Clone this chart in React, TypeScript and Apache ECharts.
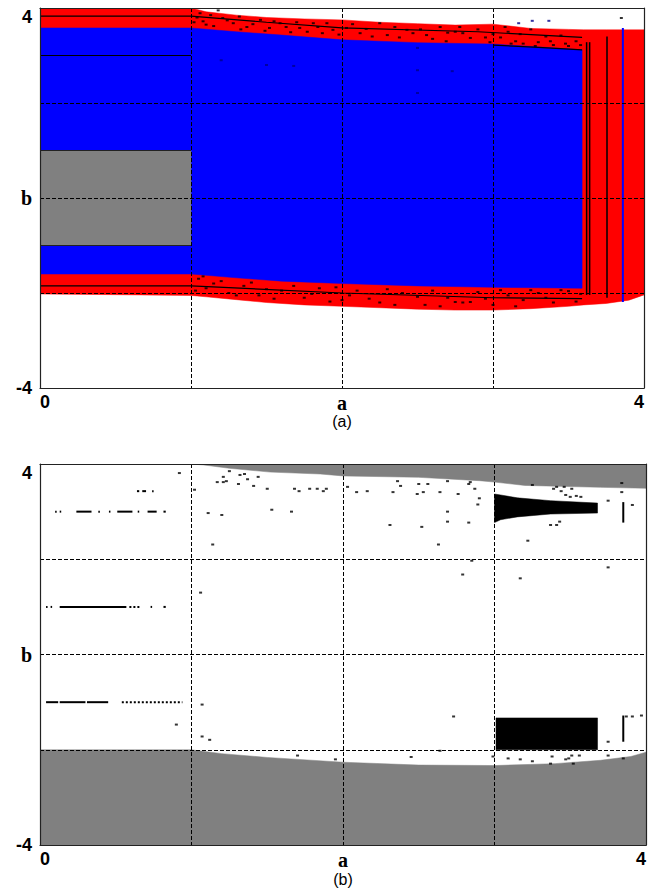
import React, { useEffect, useRef } from 'react';
import * as echarts from 'echarts';

// ---------- axes ----------
const X_TICKS = [0, 1, 2, 3, 4];
const X_TICK_LABELS = ['0', '', 'a', '', '4'];
const Y_TICKS = [-4, -2, 0, 2, 4];
const Y_TICK_LABELS = ['-4', '', 'b', '', '4'];
const PANEL_NAMES = ['(a)', '(b)'];

// ---------- panel (a) ----------
const A_RED_X = [0, 1, 1.1, 1.3, 1.5, 1.75, 2, 2.25, 2.5, 2.75, 3, 3.25, 3.5, 3.6, 3.75, 3.9, 4];
const A_RED_TOP = [4, 4, 3.92, 3.85, 3.8, 3.77, 3.75, 3.7, 3.67, 3.64, 3.66, 3.57, 3.55, 3.54, 3.54, 3.54, 3.54];
const A_RED_BOTTOM = [-2.02, -2.05, -2.08, -2.14, -2.2, -2.25, -2.28, -2.31, -2.34, -2.36, -2.36, -2.33, -2.28, -2.25, -2.22, -2.15, -2.04];

const A_BLUE_X = [0, 1, 1.3, 1.6, 2, 2.5, 3, 3.3, 3.59];
const A_BLUE_TOP = [3.58, 3.58, 3.5, 3.43, 3.33, 3.27, 3.24, 3.18, 3.12];
const A_BLUE_BOTTOM = [-1.6, -1.6, -1.68, -1.75, -1.8, -1.85, -1.88, -1.89, -1.9];

const A_GRAY_X = [0, 1];
const A_GRAY_TOP = [1, 1];
const A_GRAY_BOTTOM = [-1, -1];

const A_LINE_UPPER = [[0, 3.83], [1, 3.83], [1.5, 3.7], [2, 3.58], [2.9, 3.5], [3.59, 3.38]];
const A_LINE_THREE = [[0, 3], [1, 3]];
const A_LINE_GRAY_TOP = [[0, 1], [1, 1]];
const A_LINE_GRAY_BOTTOM = [[0, -1], [1, -1]];
const A_LINE_LOWER = [[0, -1.85], [1, -1.85], [2, -2.0], [3, -2.1], [3.59, -2.12]];
const A_LINE_EDGE = [[3.0, 3.22], [3.3, 3.17], [3.59, 3.12]];
// vertical streaks: [x, bTop, x, bBottom]
const A_VSTREAKS_BLACK = [[3.62, 3.28, 3.62, -2.04], [3.64, 3.28, 3.64, -2.04], [3.755, 3.4, 3.755, -2.1]];
const A_VSTREAKS_BLUE = [[3.86, 3.58, 3.86, -2.19]];

const A_DOTS = [
  [1.06, 3.89], [1.13, 3.85], [1.21, 3.79], [1.28, 3.68], [1.37, 3.6], [1.46, 3.75], [1.52, 3.58],
  [1.59, 3.68], [1.66, 3.49], [1.72, 3.58], [1.81, 3.68], [1.87, 3.47], [1.94, 3.54], [2.07, 3.66],
  [2.12, 3.47], [2.25, 3.68], [2.3, 3.43], [2.43, 3.54], [2.47, 3.47], [2.56, 3.43], [2.65, 3.6],
  [2.69, 3.3], [2.8, 3.47], [2.85, 3.37], [2.75, 3.5], [2.9, 3.55], [3.0, 3.45], [3.05, 3.38],
  [3.1, 3.5], [3.15, 3.3], [3.2, 3.25], [3.3, 3.28], [3.35, 3.4], [3.4, 3.22], [3.5, 3.2], [3.55, 3.3],
  [3.85, 3.79], [1.18, 3.95], [1.02, 3.7], [1.1, 3.65],
  [1.04, 3.8], [1.08, 3.72], [1.15, 3.62], [1.24, 3.74], [1.32, 3.82], [1.33, 3.55], [1.41, 3.66],
  [1.49, 3.52], [1.55, 3.72], [1.63, 3.6], [1.7, 3.7], [1.77, 3.5], [1.84, 3.6], [1.9, 3.68],
  [1.98, 3.44], [2.03, 3.58], [2.16, 3.56], [2.2, 3.4], [2.35, 3.6], [2.38, 3.38], [2.52, 3.55],
  [2.6, 3.35], [2.7, 3.48], [2.78, 3.6], [2.95, 3.38], [3.08, 3.6], [3.18, 3.45], [3.25, 3.55],
  [3.28, 3.2], [3.38, 3.3], [3.45, 3.42], [3.48, 3.25], [3.58, 3.22], [3.12, 3.25], [2.98, 3.28],
  [1.05, -1.7], [1.1, -1.9], [1.15, -1.8], [1.25, -2.0], [1.35, -1.85], [1.45, -2.05], [1.6, -1.95],
  [1.75, -2.1], [1.85, -1.9], [2.0, -2.15], [2.1, -1.95], [2.25, -2.2], [2.4, -2.0], [2.55, -2.25],
  [2.7, -2.1], [2.8, -2.2], [2.9, -1.98], [3.0, -2.25], [3.1, -2.05], [3.2, -2.15], [3.3, -2.0],
  [3.4, -2.2], [3.5, -1.96], [2.75, -2.19], [2.85, -2.19], [3.05, -1.94], [3.25, -1.94], [3.45, -1.94],
  [1.03, -1.95], [1.08, -1.65], [1.2, -1.75], [1.3, -2.05], [1.4, -1.78], [1.5, -1.92], [1.55, -2.12],
  [1.68, -1.85], [1.8, -2.02], [1.92, -2.18], [1.96, -1.88], [2.05, -2.05], [2.18, -2.12], [2.3, -1.92],
  [2.35, -2.25], [2.5, -2.08], [2.6, -1.95], [2.65, -2.28], [2.95, -2.12], [3.15, -2.28], [3.35, -2.1],
  [3.55, -2.18], [3.58, -2.02]
];
const A_BLUE_DOTS = [
  [1.2, 2.9], [1.5, 2.8], [1.68, 2.78], [2.5, 3.16], [2.5, 2.69], [2.73, 2.67], [2.5, 2.21],
  [3.17, 3.68], [3.26, 3.73], [3.37, 3.73]
];

// ---------- panel (b) ----------
const B_GRAY_TOP_X = [1, 1.08, 1.25, 1.52, 1.85, 2, 2.5, 2.9, 3, 3.2, 3.7, 4];
const B_GRAY_TOP_EDGE = [4, 3.98, 3.91, 3.83, 3.79, 3.75, 3.72, 3.65, 3.62, 3.55, 3.51, 3.49];
const B_GRAY_BOTTOM_X = [0, 1, 1.2, 1.5, 2, 2.5, 3, 3.4, 3.7, 3.9, 4];
const B_GRAY_BOTTOM_EDGE = [-2.0, -2.0, -2.08, -2.16, -2.26, -2.32, -2.33, -2.29, -2.22, -2.14, -2.05];

const B_WEDGE_X = [3.0, 3.04, 3.15, 3.26, 3.37, 3.68];
const B_WEDGE_TOP = [3.37, 3.35, 3.29, 3.26, 3.23, 3.18];
const B_WEDGE_BOTTOM = [2.77, 2.83, 2.89, 2.92, 2.95, 2.97];

const B_BLOCK_X = [3.01, 3.68];
const B_BLOCK_TOP = [-1.33, -1.33];
const B_BLOCK_BOTTOM = [-2.0, -2.0];

// horizontal segments [x1, x2, b]
const B_SEGMENTS = [
  [0.64, 0.655, 3.43], [0.675, 0.7, 3.43], [0.74, 0.75, 3.43],
  [0.1, 0.11, 3.0], [0.13, 0.14, 3.0], [0.24, 0.34, 3.0], [0.385, 0.395, 3.0], [0.455, 0.465, 3.0],
  [0.51, 0.61, 3.0], [0.645, 0.655, 3.0], [0.71, 0.77, 3.0], [0.815, 0.83, 3.0],
  [0.04, 0.05, 1.0], [0.07, 0.08, 1.0], [0.13, 0.57, 1.0], [0.73, 0.74, 1.0], [0.815, 0.83, 1.0],
  [0.04, 0.12, -1.0], [0.13, 0.3, -1.0], [0.31, 0.45, -1.0]
];
const B_SEGMENTS_DOTTED = [[0.59, 0.66, 1.0], [0.54, 0.94, -1.0]];
const B_VSTREAKS = [[3.85, 3.2, 3.85, 2.77], [3.85, -1.28, 3.85, -1.83]];

const B_DOTS = [
  [1.17, 3.62], [1.21, 3.62], [1.23, 3.64], [1.21, 3.73], [1.25, 3.85], [1.32, 3.77], [1.35, 3.79],
  [1.37, 3.68], [1.44, 3.73], [1.41, 3.54], [1.31, 3.58], [1.5, 3.48], [1.68, 3.48], [1.71, 3.43],
  [1.78, 3.48], [1.83, 3.48], [1.87, 3.43], [1.89, 3.48], [1.11, 2.97], [1.2, 2.93], [1.53, 3.04],
  [1.66, 3.0], [1.14, 2.31], [1.02, 3.46], [2.03, 3.52], [2.09, 3.41], [2.16, 3.43], [2.33, 3.41],
  [2.36, 3.64], [2.38, 3.54], [2.5, 3.58], [2.49, 3.37], [2.53, 3.41], [2.56, 3.58], [2.64, 3.41],
  [2.69, 3.64], [2.76, 3.37], [2.83, 3.58], [2.87, 3.48], [2.31, 2.72], [2.52, 2.68], [2.69, 3.0],
  [2.69, 2.79], [2.83, 2.77], [2.63, 2.31], [2.89, 3.15], [2.9, 3.28], [2.84, 3.62], [2.79, 1.68],
  [3.17, 1.6], [3.22, 2.39], [2.85, 1.97], [3.37, 2.72], [3.41, 2.72], [3.43, 2.79], [3.25, 3.56],
  [3.39, 3.48], [3.41, 3.52], [3.44, 3.43], [3.46, 3.52], [3.51, 3.48], [3.47, 3.35], [3.5, 3.31],
  [3.54, 3.33], [3.57, 3.31], [3.75, 3.23], [3.84, 3.6], [3.84, 3.41], [3.91, 3.14], [3.75, 1.83],
  [1.06, 1.3], [0.92, 3.81],
  [0.9, -1.47], [1.07, -1.05], [1.07, -1.72], [1.12, -1.79], [3.87, -1.3], [3.91, -1.3], [3.97, -1.28],
  [3.75, -1.83], [2.73, -1.3], [3.09, -2.18], [3.17, -2.2], [3.25, -2.24], [3.38, -2.14], [3.47, -2.2],
  [3.49, -2.18], [3.51, -2.12], [3.56, -2.12], [3.75, -2.12], [3.85, -2.18], [3.37, -2.29], [3.52, -2.29],
  [2.99, -2.14], [1.7, -2.12], [1.95, -2.2], [2.45, -2.15], [2.64, -2.02]
];

// ---------- builders ----------
const NUM_STYLE = { fontFamily: 'Liberation Sans', fontWeight: 'bold', fontSize: 18, color: '#000' };
const LET_STYLE = { fontFamily: 'Liberation Serif', fontWeight: 'bold', fontSize: 20, color: '#000' };

function tickFormatter(ticks: number[], labels: string[]) {
  return (v: number) => {
    const i = ticks.findIndex((t) => Math.abs(t - v) < 1e-9);
    const t = i >= 0 ? labels[i] : '';
    if (!t) return '';
    return /[a-z]/.test(t) ? `{l|${t}}` : `{n|${t}}`;
  };
}

const GRID_LINE = { color: '#000', type: [4, 2] as any, width: 1 };
const BORDER = { color: '#222', width: 1.2 };

function xAxes(gridIndex: number) {
  return [
    {
      type: 'value', gridIndex, min: 0, max: 4, interval: 1, position: 'bottom', z: 10,
      axisLine: { show: true, onZero: false, lineStyle: BORDER },
      axisTick: { show: false },
      splitLine: { show: true, lineStyle: GRID_LINE },
      axisLabel: {
        margin: 5, alignMinLabel: 'left', alignMaxLabel: 'right',
        formatter: tickFormatter(X_TICKS, X_TICK_LABELS), rich: { n: NUM_STYLE, l: LET_STYLE },
      },
      name: PANEL_NAMES[gridIndex], nameLocation: 'middle', nameGap: 20,
      nameTextStyle: { fontFamily: 'Liberation Sans', fontSize: 16, color: '#000', verticalAlign: 'top' },
    },
    {
      type: 'value', gridIndex, min: 0, max: 4, position: 'top', z: 10,
      axisLine: { show: true, onZero: false, lineStyle: BORDER },
      axisTick: { show: false }, axisLabel: { show: false }, splitLine: { show: false },
    },
  ];
}
function yAxes(gridIndex: number) {
  return [
    {
      type: 'value', gridIndex, min: -4, max: 4, interval: 2, position: 'left', z: 10,
      axisLine: { show: true, onZero: false, lineStyle: BORDER },
      axisTick: { show: false },
      splitLine: { show: true, lineStyle: GRID_LINE },
      axisLabel: {
        margin: 8, verticalAlignMaxLabel: 'top',
        formatter: tickFormatter(Y_TICKS, Y_TICK_LABELS), rich: { n: NUM_STYLE, l: LET_STYLE },
      },
    },
    {
      type: 'value', gridIndex, min: -4, max: 4, position: 'right', z: 10,
      axisLine: { show: true, onZero: false, lineStyle: BORDER },
      axisTick: { show: false }, axisLabel: { show: false }, splitLine: { show: false },
    },
  ];
}

function band(xs: number[], tops: number[], bots: number[], color: string, axis: number, z: number) {
  return {
    type: 'custom', xAxisIndex: axis, yAxisIndex: axis, z, silent: true, clip: true,
    data: xs.map((x, i) => [x, tops[i], bots[i]]),
    encode: { x: 0, y: [1, 2] },
    renderItem: (params: any, api: any) => {
      if (params.dataIndex !== 0) return null;
      const pts: number[][] = [];
      for (let i = 0; i < xs.length; i++) pts.push(api.coord([xs[i], tops[i]]));
      for (let i = xs.length - 1; i >= 0; i--) pts.push(api.coord([xs[i], bots[i]]));
      return { type: 'polygon', shape: { points: pts }, style: { fill: color, stroke: color, lineWidth: 0.5 } };
    },
  };
}

function segments(list: number[][], axis: number, color: string, width: number, dash: any, z: number) {
  return {
    type: 'custom', xAxisIndex: axis, yAxisIndex: axis, z, silent: true,
    data: list,
    encode: { x: [0, 2], y: [1, 3] },
    renderItem: (params: any, api: any) => {
      const p1 = api.coord([api.value(0), api.value(1)]);
      const p2 = api.coord([api.value(2), api.value(3)]);
      return {
        type: 'line',
        shape: { x1: p1[0], y1: p1[1], x2: p2[0], y2: p2[1] },
        style: { stroke: color, lineWidth: width, lineDash: dash },
      };
    },
  };
}

function polyline(data: number[][], axis: number, color: string, z: number) {
  return {
    type: 'line', xAxisIndex: axis, yAxisIndex: axis, z, silent: true, data,
    symbol: 'none', lineStyle: { color, width: 1.2 },
  };
}

function dots(data: number[][], axis: number, color: string, z: number) {
  return {
    type: 'scatter', xAxisIndex: axis, yAxisIndex: axis, z, silent: true, data,
    symbol: 'rect', symbolSize: [3, 2], itemStyle: { color },
  };
}

const horiz = (list: number[][]) => list.map(([x1, x2, b]) => [x1, b, x2, b]);

const option: any = {
  animation: false,
  backgroundColor: '#fff',
  grid: [
    { left: 40, top: 8, width: 604, height: 380 },
    { left: 40, top: 464, width: 606, height: 383 },
  ],
  xAxis: [...xAxes(0), ...xAxes(1)],
  yAxis: [...yAxes(0), ...yAxes(1)],
  series: [
    // panel (a)
    band(A_RED_X, A_RED_TOP, A_RED_BOTTOM, '#ff0000', 0, 1),
    band(A_BLUE_X, A_BLUE_TOP, A_BLUE_BOTTOM, '#0000ff', 0, 2),
    band(A_GRAY_X, A_GRAY_TOP, A_GRAY_BOTTOM, '#808080', 0, 3),
    polyline(A_LINE_UPPER, 0, '#000', 4),
    polyline(A_LINE_THREE, 0, '#000', 4),
    polyline(A_LINE_GRAY_TOP, 0, '#222', 4),
    polyline(A_LINE_GRAY_BOTTOM, 0, '#222', 4),
    polyline(A_LINE_LOWER, 0, '#000', 4),
    polyline(A_LINE_EDGE, 0, '#000', 4),
    segments(A_VSTREAKS_BLACK, 0, '#000', 1.5, null, 4),
    segments(A_VSTREAKS_BLUE, 0, '#0000ff', 2, null, 4),
    dots(A_DOTS, 0, '#000', 5),
    dots(A_BLUE_DOTS, 0, '#00008b', 5),
    // panel (b)
    band(B_GRAY_TOP_X, B_GRAY_TOP_X.map(() => 4), B_GRAY_TOP_EDGE, '#808080', 2, 1),
    band(B_GRAY_BOTTOM_X, B_GRAY_BOTTOM_EDGE, B_GRAY_BOTTOM_X.map(() => -4), '#808080', 2, 1),
    band(B_WEDGE_X, B_WEDGE_TOP, B_WEDGE_BOTTOM, '#000', 2, 2),
    band(B_BLOCK_X, B_BLOCK_TOP, B_BLOCK_BOTTOM, '#000', 2, 2),
    segments(horiz(B_SEGMENTS), 2, '#000', 2, null, 4),
    segments(horiz(B_SEGMENTS_DOTTED), 2, '#000', 2, [2, 2], 4),
    segments(B_VSTREAKS, 2, '#000', 2, null, 4),
    dots(B_DOTS, 2, '#000', 5),
  ],
};

export default function App() {
  const ref = useRef<HTMLDivElement>(null);
  useEffect(() => {
    document.body.style.margin = '0';
    const chart = echarts.init(ref.current!, null, { renderer: 'svg' });
    chart.setOption(option);
    return () => chart.dispose();
  }, []);
  return <div ref={ref} style={{ width: 649, height: 888, background: '#fff' }} />;
}
